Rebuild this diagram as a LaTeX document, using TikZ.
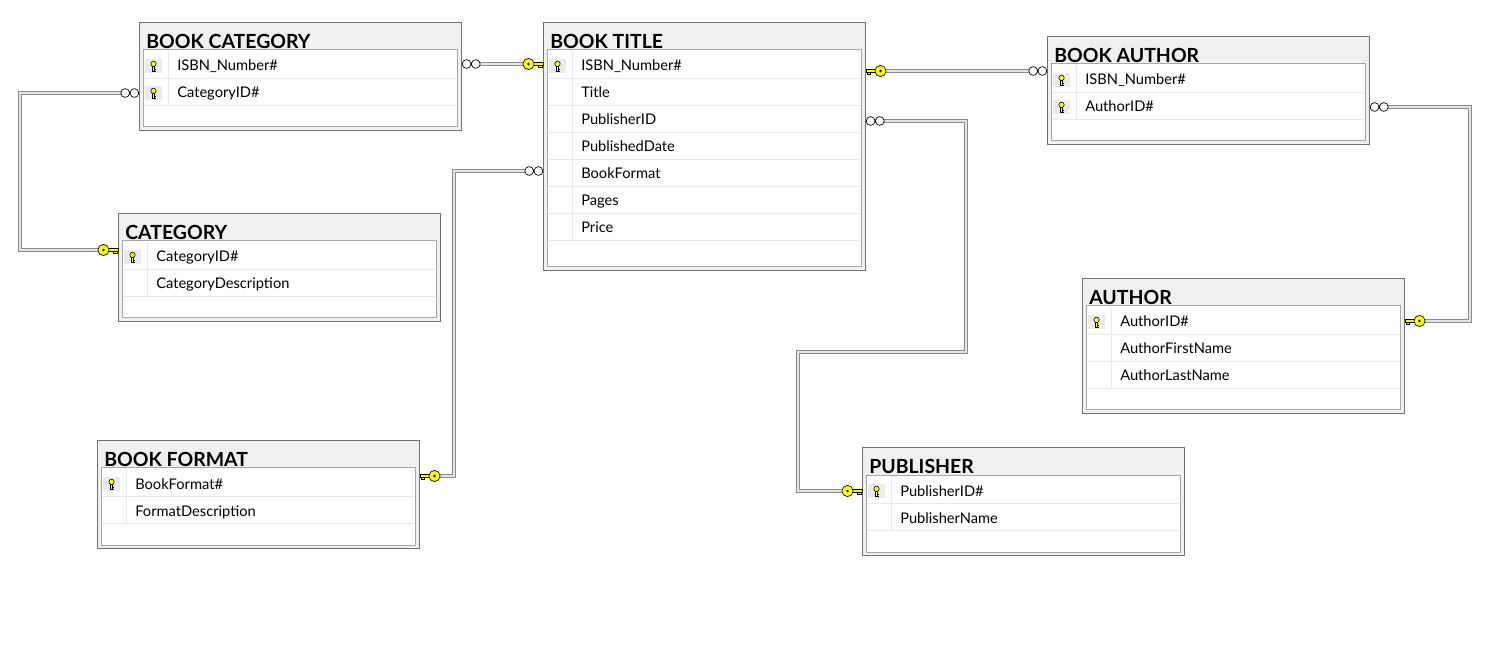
\documentclass[tikz,border=0pt]{standalone}
\usepackage{fontspec}
\setmainfont{Lato}

\definecolor{headgray}{HTML}{F0F0F0}
\definecolor{framegray}{HTML}{727272}
\definecolor{innergray}{HTML}{A8A8A8}
\definecolor{rowgray}{HTML}{E8E8E8}
\definecolor{keycell}{HTML}{EBEBEB}
\definecolor{keyyellow}{HTML}{FFFF00}
\definecolor{linegray}{HTML}{8C8C8C}
\definecolor{linelight}{HTML}{E4E4E4}

\tikzset{
  tablebox/.style={draw=framegray, fill=headgray, line width=0.75pt, inner sep=0pt, anchor=north west},
  innerframe/.style={draw=innergray, fill=white, line width=0.75pt},
  rowline/.style={draw=rowgray, line width=0.6pt},
  tabletitle/.style={anchor=base west, inner sep=0pt, font=\fontsize{14.6}{17}\selectfont\bfseries},
  fieldtext/.style={anchor=base west, inner sep=0pt, font=\fontsize{11}{13}\selectfont},
  relline/.style={draw=linegray, double=linelight, line width=0.75pt, double distance=1.5pt},
  rowkey/.pic={
    \filldraw[fill=keyyellow, draw=black, line width=0.4pt] (-1,-0.5) rectangle (1,5);
    \draw[black, line width=0.45pt] (1,2.4) -- (2.5,2.4) (1,4.5) -- (2.5,4.5);
    \filldraw[fill=keyyellow, draw=black, line width=0.45pt] (0,-2.6) circle (2.7);
  },
  manyend/.pic={
    \filldraw[fill=white, draw=black, line width=0.5pt] (4.6,0) circle (4.4) (13.8,0) circle (4.4);
  },
  keyend/.pic={
    \filldraw[fill=keyyellow, draw=black, line width=0.5pt] (0,-1.6) rectangle (9.5,1.6);
    \filldraw[fill=keyyellow, draw=black, line width=0.5pt] (1,1.6) rectangle (4.5,3.4);
    \filldraw[fill=keyyellow, draw=black, line width=0.5pt] (14.5,0) circle (5.6);
    \fill[black] (14.5,0) circle (1.4);
  }
}

\def\keyflag{k}
% table: name, x, y, height, title, rows (k = key / n = plain)
\newcommand{\erdtable}[6]{%
  \begin{scope}[shift={(#2,#3)}]
    \node[tablebox, minimum width=322*0.75pt, minimum height=#4*0.75pt] (#1) at (0,0) {};
    \node[tabletitle] (#1-title) at (7,26.5) {#5};
    \draw[innerframe] (4,28) rectangle (318,#4-3);
    \foreach \kf/\fld [count=\i] in {#6} {
      \pgfmathsetmacro{\rt}{29+(\i-1)*27}
      \draw[rowline] (5,\rt+27) -- (317,\rt+27);
      \draw[rowline] (29,\rt) -- (29,\rt+27);
      \ifx\kf\keyflag
        \fill[keycell] (6,\rt+8) rectangle (23,\rt+22);
        \pic at (14.5,\rt+15.5) {rowkey};
      \fi
      \node[fieldtext] (#1-\i) at (38,\rt+20) {\fld};
    }
  \end{scope}}

\begin{document}
\begin{tikzpicture}[x=0.75pt, y=-0.75pt]
    \useasboundingbox[fill=white] (0,0) rectangle (1502,655);

    % Tables
    \erdtable{bcat}{139}{22}{108}{BOOK CATEGORY}{k/ISBN\_Number\#, k/CategoryID\#}
    \erdtable{btitle}{543}{22}{248}{BOOK TITLE}{k/ISBN\_Number\#, n/Title, n/PublisherID, n/PublishedDate, n/BookFormat, n/Pages, n/Price}
    \erdtable{bauth}{1047}{36}{108}{BOOK AUTHOR}{k/ISBN\_Number\#, k/AuthorID\#}
    \erdtable{cat}{118}{213}{108}{CATEGORY}{k/CategoryID\#, n/CategoryDescription}
    \erdtable{bform}{97}{440}{108}{BOOK FORMAT}{k/BookFormat\#, n/FormatDescription}
    \erdtable{auth}{1082}{278}{135}{AUTHOR}{k/AuthorID\#, n/AuthorFirstName, n/AuthorLastName}
    \erdtable{pub}{862}{447}{108}{PUBLISHER}{k/PublisherID\#, n/PublisherName}

    % Relationships
    \draw[relline] (bcat.east |- 0,64) -- (btitle.west |- 0,64);
    \pic at (bcat.east |- 0,64) {manyend};
    \pic[xscale=-1] at (btitle.west |- 0,64) {keyend};

    \draw[relline] (btitle.east |- 0,71) -- (bauth.west |- 0,71);
    \pic at (btitle.east |- 0,71) {keyend};
    \pic[xscale=-1] at (bauth.west |- 0,71) {manyend};

    \draw[relline] (bauth.east |- 0,107) -- (1470,107) -- (1470,321) -- (auth.east |- 0,321);
    \pic at (bauth.east |- 0,107) {manyend};
    \pic at (auth.east |- 0,321) {keyend};

    \draw[relline] (bcat.west |- 0,93) -- (20,93) -- (20,250) -- (cat.west |- 0,250);
    \pic[xscale=-1] at (bcat.west |- 0,93) {manyend};
    \pic[xscale=-1] at (cat.west |- 0,250) {keyend};

    \draw[relline] (btitle.west |- 0,171) -- (454,171) -- (454,476) -- (bform.east |- 0,476);
    \pic[xscale=-1] at (btitle.west |- 0,171) {manyend};
    \pic at (bform.east |- 0,476) {keyend};

    \draw[relline] (btitle.east |- 0,121) -- (966,121) -- (966,352) -- (798,352) -- (798,491) -- (pub.west |- 0,491);
    \pic at (btitle.east |- 0,121) {manyend};
    \pic[xscale=-1] at (pub.west |- 0,491) {keyend};
\end{tikzpicture}
\end{document}
